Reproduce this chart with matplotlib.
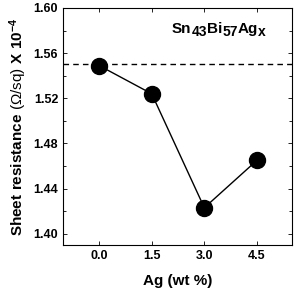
import matplotlib.pyplot as plt
from matplotlib.ticker import MultipleLocator
from matplotlib.transforms import offset_copy

plt.rcParams['font.family'] = ['Liberation Sans', 'DejaVu Sans']
plt.rcParams['mathtext.fontset'] = 'custom'
plt.rcParams['mathtext.rm'] = 'Liberation Sans'
plt.rcParams['mathtext.bf'] = 'Liberation Sans:bold'
plt.rcParams['mathtext.it'] = 'Liberation Sans:bold'

ag = [0.0, 1.5, 3.0, 4.5]
resistance = [1.549, 1.524, 1.423, 1.465]
reference = 1.55
xticks = [0.0, 1.5, 3.0, 4.5]
yticks = [1.40, 1.44, 1.48, 1.52, 1.56, 1.60]
# composition label pieces: (text, is_subscript)
label_parts = [("Sn", False), ("43", True), ("Bi", False), ("57", True),
               ("Ag", False), ("x", True)]

fig = plt.figure(figsize=(2.95, 2.93), dpi=100)
ax = fig.add_axes([63 / 295, 1 - 245 / 293, 229 / 295, 237 / 293])

ax.axhline(reference, color='black', ls=(0, (4, 3)), lw=1.0)
ax.plot(ag, resistance, color='black', lw=1.0, marker='o', ms=11.5)

ax.set_xlim(-1.03, 5.5)
ax.set_ylim(1.39, 1.60)
ax.set_xticks(xticks)
ax.set_xticklabels([f"{v:.1f}" for v in xticks])
ax.set_yticks(yticks)
ax.set_yticklabels([f"{v:.2f}" for v in yticks])
ax.yaxis.set_minor_locator(MultipleLocator(0.02))
ax.tick_params(which='both', direction='in', top=True, right=True,
               labelsize=9, width=0.6)
ax.tick_params(which='major', length=3)
ax.tick_params(which='minor', length=2)
for lab in ax.get_xticklabels() + ax.get_yticklabels():
    lab.set_fontweight('bold')
for s in ax.spines.values():
    s.set_linewidth(0.8)

ax.set_xlabel('Ag (wt %)', fontsize=11, fontweight='bold', labelpad=9)
ax.set_ylabel(r'$\mathbf{Sheet\ resistance\ }\mathrm{(Ω/sq)}\mathbf{\ X\ 10^{-4}}$',
              fontsize=11, labelpad=3)

# composition label, subscripts almost full size as in the original
fig.canvas.draw()
renderer = fig.canvas.get_renderer()
x0 = 0.475
for txt, sub in label_parts:
    tr = offset_copy(ax.transAxes, fig=fig, y=-2.5 if sub else 0, units='points')
    t = ax.text(x0, 0.895, txt, transform=tr, ha='left', va='baseline',
                fontsize=10 if sub else 11, fontweight='bold')
    bb = t.get_window_extent(renderer)
    x0 = ax.transAxes.inverted().transform((bb.x1, bb.y0))[0]

fig.savefig('out.png', dpi=100)
